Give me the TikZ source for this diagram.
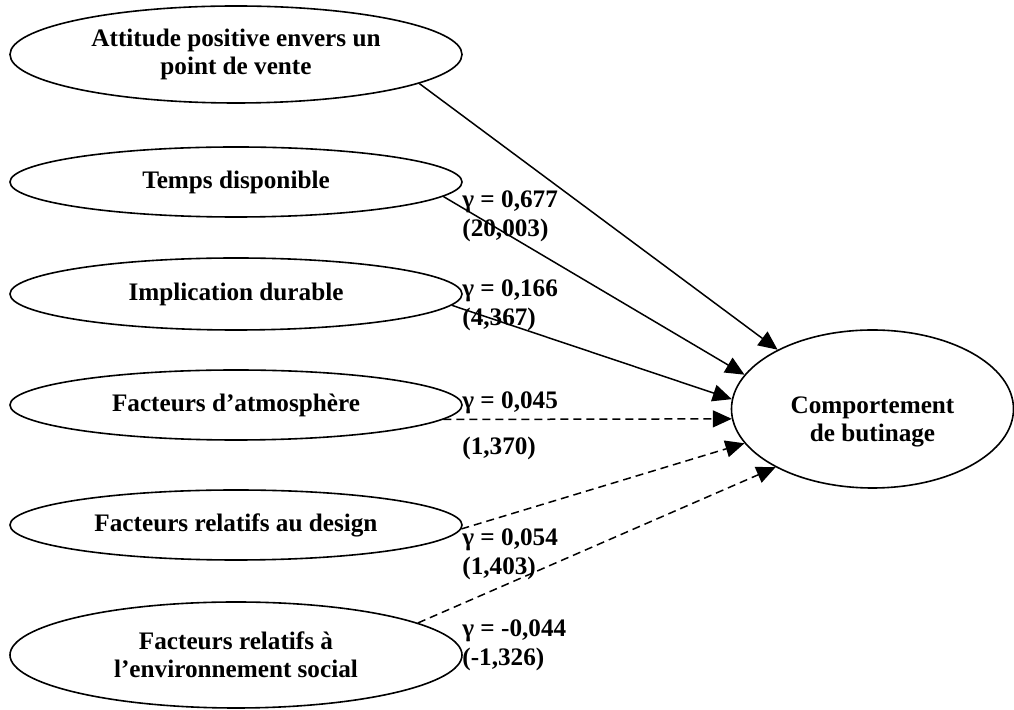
\documentclass[tikz,border=0pt]{standalone}
\usepackage{fontspec}
\setmainfont{Liberation Serif}
\usetikzlibrary{shapes.geometric,arrows.meta}

\begin{document}
\begin{tikzpicture}[x=0.5pt,y=-0.5pt,
latent/.style={draw,ellipse,line width=0.8pt,inner sep=0pt,align=center,
 font=\fontsize{12.6}{13.8}\selectfont\bfseries},
coef/.style={anchor=west,inner sep=0pt,align=left,
 font=\fontsize{12.6}{14.5}\selectfont\bfseries},
sig/.style={line width=0.75pt,-{Triangle[length=9.5pt,width=8.5pt]}},
nonsig/.style={sig,dash pattern=on 4pt off 2.5pt}]
\useasboundingbox (0,0) rectangle (1014,710);

\node[latent,minimum width=226pt,minimum height=48.5pt] (att) at (236,54.5) {Attitude positive envers un\\point de vente};
\node[latent,minimum width=226pt,minimum height=35pt] (temps) at (236,182) {Temps disponible};
\node[latent,minimum width=226pt,minimum height=36pt] (impl) at (236,294) {Implication durable};
\node[latent,minimum width=226pt,minimum height=35pt] (atmo) at (236,405) {Facteurs d’atmosphère};
\node[latent,minimum width=226pt,minimum height=35pt] (design) at (236,525) {Facteurs relatifs au design};
\node[latent,minimum width=226pt,minimum height=53pt] (social) at (236,655) {Facteurs relatifs à\\l’environnement social};
\node[latent,minimum width=141pt,minimum height=79pt,
 label={[align=center,yshift=-6.5pt,font=\fontsize{12.6}{13.8}\selectfont\bfseries]center:Comportement\\de butinage}] (butin) at (872.5,409) {};

\draw[sig] (att.-9) -- (butin.148);
\draw[sig] (temps.-4.2) -- (butin.165);
\draw[sig] (impl.-3.8) -- (butin.176);
\draw[nonsig] (atmo.-4.2) -- (butin.184);
\draw[nonsig] (design.-1) -- (butin.195.6);
\draw[nonsig] (social.10.3) -- (butin.211.4);

\node[coef] (g1) at (462,216) {γ = 0,677\\(20,003)};
\node[coef] (g2) at (462,305) {γ = 0,166\\(4,367)};
\node[coef] (g3) at (462,426) {γ = 0,045\\[8.5pt](1,370)};
\node[coef] (g4) at (462,554) {γ = 0,054\\(1,403)};
\node[coef] (g5) at (462,645) {γ = -0,044\\(-1,326)};
\end{tikzpicture}
\end{document}
